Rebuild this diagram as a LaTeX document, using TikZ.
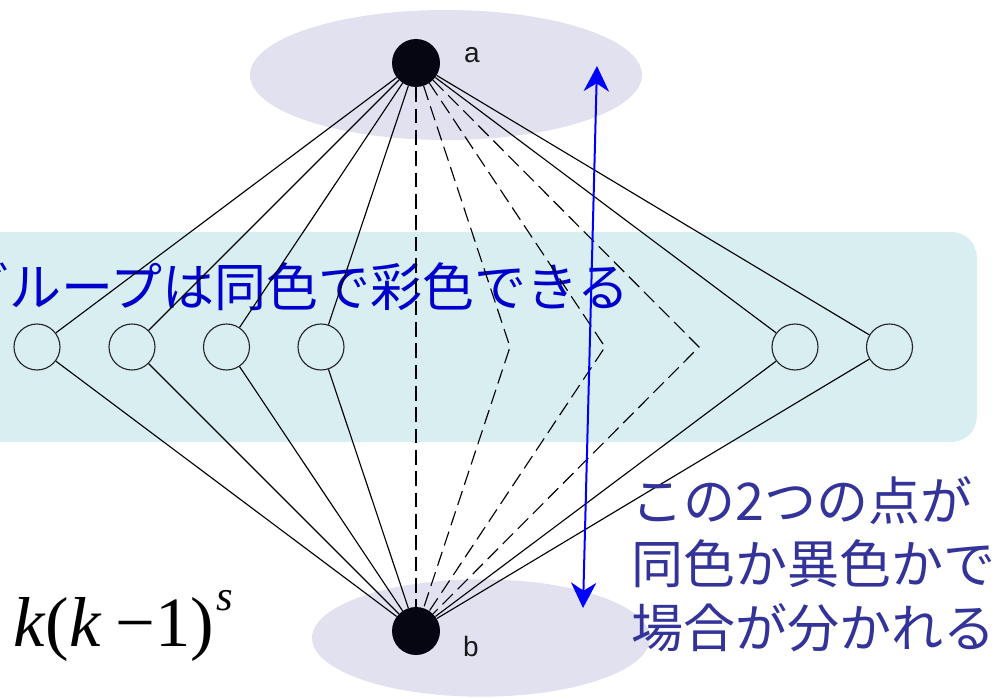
\documentclass[tikz,border=0pt]{standalone}
\usepackage{fontspec}
\setmainfont{Liberation Sans}
\newfontfamily\jpfont{Noto Sans CJK JP}
\newfontfamily\tnr{Liberation Serif}
\usetikzlibrary{arrows.meta,shapes.geometric}
\definecolor{lav}{RGB}{225,225,240}
\definecolor{tealbg}{RGB}{216,238,240}
\definecolor{txtblue}{RGB}{0,0,204}
\definecolor{txtnavy}{RGB}{51,51,153}
\definecolor{nodeblk}{RGB}{6,6,18}
\begin{document}
\begin{tikzpicture}[x=0.75pt,y=-0.75pt,
  blob/.style={ellipse,fill=lav,draw=none,inner sep=0},
  bignode/.style={circle,fill=nodeblk,draw=none,minimum size=36pt,inner sep=0},
  smallnode/.style={circle,draw=black!85,line width=0.85pt,minimum size=34.5pt,inner sep=0},
  edge/.style={draw=black,line width=0.85pt},
  dedge/.style={draw=black,line width=0.85pt,dash pattern=on 11pt off 5pt},
  lbl/.style={font=\fontsize{21}{24}\selectfont,text=black!90,inner sep=0},
  jp/.style={font=\jpfont\fontsize{39}{42}\selectfont,inner sep=0},
  arr/.style={draw=blue,line width=1.5pt,{Stealth[length=19pt,width=19pt,inset=6pt]}-{Stealth[length=19pt,width=19pt,inset=6pt]}}
]
\useasboundingbox (0,0) rectangle (1008,699);
% backgrounds
\node[blob,minimum width=294pt,minimum height=97.5pt] (topblob) at (446,75) {};
\node[blob,minimum width=253.5pt,minimum height=88pt] (botblob) at (481,638) {};
\node[fill=tealbg,draw=none,rounded corners=19pt,minimum width=770pt,minimum height=157.5pt,inner sep=0] (band) at (463.5,337) {};
% group text
\node[jp,text=txtblue,anchor=east] (grouptxt) at (630,287) {グループは同色で彩色できる};
% vertices
\node[bignode] (a) at (416,63) {};
\node[bignode] (b) at (416,631) {};
\node[smallnode] (c1) at (37,347) {};
\node[smallnode] (c2) at (132,347) {};
\node[smallnode] (c3) at (226.5,347) {};
\node[smallnode] (c4) at (321,347) {};
\node[smallnode] (c5) at (795,347) {};
\node[smallnode] (c6) at (889.5,347) {};
\coordinate (d1) at (510,347);
\coordinate (d2) at (605,347);
\coordinate (d3) at (699,347);
% edges
\foreach \c in {c1,c2,c3,c4,c5,c6}{
  \draw[edge] (a) -- (\c);
  \draw[edge] (\c) -- (b);
}
\draw[dedge] (a) -- (b);
\foreach \d in {d1,d2,d3}{
  \draw[dedge] (a) -- (\d) -- (b);
}
% labels
\node[lbl] (la) at (472,55) {a};
\node[lbl] (lb) at (471,646) {b};
% arrow
\coordinate (t1) at (597,66);
\coordinate (t2) at (583,608);
\draw[arr] (t1) -- (t2);
% right text
\node[jp,text=txtnavy,anchor=west] (r1) at (631,501) {この2つの点が};
\node[jp,text=txtnavy,anchor=west] (r2) at (631,564) {同色か異色かで};
\node[jp,text=txtnavy,anchor=west] (r3) at (631,628) {場合が分かれる};
% formula
\node[anchor=base west,inner sep=0,font=\tnr\fontsize{53}{56}\selectfont] (formula) at (13,646)
  {\textit{k}(\textit{k}\hspace{0.2em}−1)\raisebox{0.5em}{\fontsize{32}{34}\selectfont\hspace{0.05em}\textit{s}}};
\end{tikzpicture}
\end{document}
